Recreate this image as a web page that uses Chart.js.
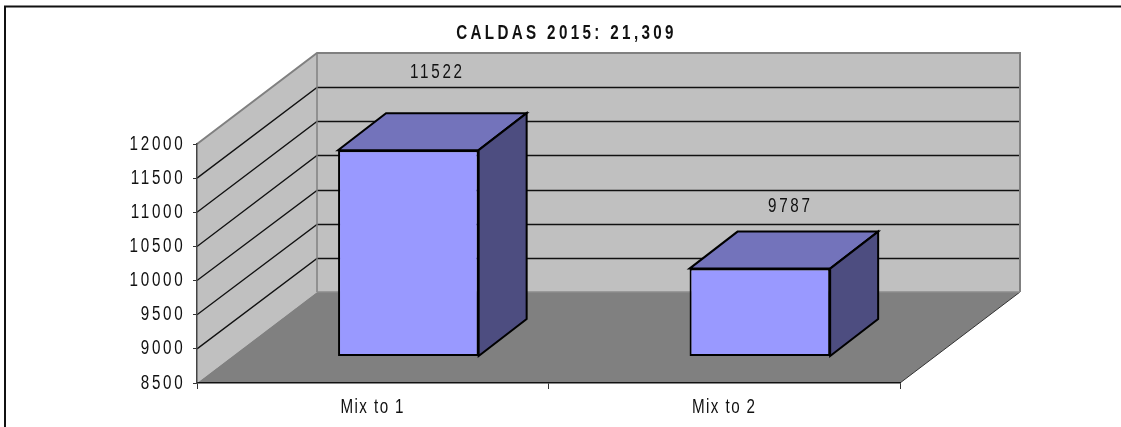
<!DOCTYPE html>
<html>
<head>
<meta charset="utf-8">
<title>CALDAS 2015</title>
<script src="https://cdn.jsdelivr.net/npm/chart.js@4"></script>
<style>
  html, body { margin: 0; padding: 0; background: #fff; overflow: hidden; }
  #chart-box { width: 1121px; height: 427px; }
</style>
</head>
<body>
<div id="chart-box"><canvas id="mixChart" width="1121" height="427"></canvas></div>
<script>
// =======================
// Data
// =======================
const categories = ["Mix to 1", "Mix to 2"];
const seriesValues = [11522, 9787];
const yMin = 8500;
const yMax = 12000;
const yStep = 500;
const chartTitle = "CALDAS 2015: 21,309";

// =======================
// Fake 3D settings
// =======================
const FONT_FAMILY = "'Liberation Sans', Arial, sans-serif";
const TEXT_SQUEEZE = 0.76;  // no narrow font here, so the text gets squeezed sideways
const WALL_DX = 120;        // front axis -> back wall
const WALL_DY = -91;
const BAR_DX = 35.6;        // front axis -> bar front face
const BAR_DY = -26.5;
const DEPTH_DX = 48;        // bar front face -> bar back face
const DEPTH_DY = -37;
const LABEL_LIFT = [41, 25];  // the labels do not sit at the same height over each bar
const LABEL_SHIFT = [29, 30.5];

function poly(ctx, pts, fill, stroke, width) {
  ctx.beginPath();
  pts.forEach((p, i) => i ? ctx.lineTo(p[0], p[1]) : ctx.moveTo(p[0], p[1]));
  ctx.closePath();
  if (fill) { ctx.fillStyle = fill; ctx.fill(); }
  if (stroke) { ctx.strokeStyle = stroke; ctx.lineWidth = width; ctx.stroke(); }
}

function line(ctx, pts, color, width) {
  ctx.beginPath();
  pts.forEach((p, i) => i ? ctx.lineTo(p[0], p[1]) : ctx.moveTo(p[0], p[1]));
  ctx.strokeStyle = color;
  ctx.lineWidth = width;
  ctx.stroke();
}

function spacingFor(ctx, text) {
  if (ctx.font.includes("bold")) return "4.4px";
  return text.startsWith("Mix") ? "1.85px" : "3.6px";
}

// Walls, floor and grid go under everything, outer frame too
const wallsPlugin = {
  id: "walls",
  beforeDraw(chart) {
    const ctx = chart.ctx;
    const { left, right } = chart.chartArea;
    const y = chart.scales.y;
    const top = y.getPixelForValue(yMax);
    const bottom = y.getPixelForValue(yMin);
    ctx.save();

    // frame has only top and left sides in the picture
    line(ctx, [[5, 427], [5, 6.5], [1121, 6.5]], "#111", 2);

    // back wall and side wall
    poly(ctx, [[left + WALL_DX, top + WALL_DY], [right + WALL_DX, top + WALL_DY],
      [right + WALL_DX, bottom + WALL_DY], [left + WALL_DX, bottom + WALL_DY]], "#c0c0c0");
    poly(ctx, [[left, top], [left + WALL_DX, top + WALL_DY],
      [left + WALL_DX, bottom + WALL_DY], [left, bottom]], "#c0c0c0");

    // floor
    poly(ctx, [[left, bottom], [left + WALL_DX, bottom + WALL_DY],
      [right + WALL_DX, bottom + WALL_DY], [right, bottom]], "#808080");
    line(ctx, [[right, bottom], [right + WALL_DX, bottom + WALL_DY]], "#333", 1);

    // gridlines, both sides
    y.ticks.forEach(t => {
      if (t.value === yMin || t.value === yMax) return;
      const py = y.getPixelForValue(t.value);
      const backY = Math.round(py + WALL_DY) + 0.5;
      line(ctx, [[left, py], [left + WALL_DX, backY], [right + WALL_DX, backY]], "#111", 1.3);
    });

    // wall edges
    line(ctx, [[left, top], [left + WALL_DX, top + WALL_DY], [right + WALL_DX, top + WALL_DY],
      [right + WALL_DX, bottom + WALL_DY]], "#808080", 2);
    line(ctx, [[left + WALL_DX, top + WALL_DY], [left + WALL_DX, bottom + WALL_DY]], "#808080", 1.5);
    line(ctx, [[left + WALL_DX, bottom + WALL_DY], [right + WALL_DX, bottom + WALL_DY]], "#8c8c8c", 1.5);
    ctx.restore();
  }
};

// Library draws the front face, moved back into the room, then the top and side get added
const boxPlugin = {
  id: "boxes",
  beforeDatasetDraw(chart) {
    chart.ctx.save();
    chart.ctx.translate(BAR_DX, BAR_DY);
  },
  afterDatasetDraw(chart, args) {
    const ctx = chart.ctx;
    args.meta.data.forEach(bar => {
      const x0 = bar.x - bar.width / 2;
      const x1 = bar.x + bar.width / 2;
      poly(ctx, [[x0, bar.y], [x1, bar.y], [x1 + DEPTH_DX, bar.y + DEPTH_DY], [x0 + DEPTH_DX, bar.y + DEPTH_DY]],
        "#7373bb", "#000", 2);
      poly(ctx, [[x1, bar.y], [x1 + DEPTH_DX, bar.y + DEPTH_DY], [x1 + DEPTH_DX, bar.base + DEPTH_DY], [x1, bar.base]],
        "#4d4d80", "#000", 2);
    });
    ctx.restore();

    // value labels
    ctx.save();
    ctx.font = "20px " + FONT_FAMILY;
    ctx.fillStyle = "#111";
    ctx.textAlign = "center";
    ctx.textBaseline = "middle";
    args.meta.data.forEach((bar, i) => {
      const topBack = bar.y + BAR_DY + DEPTH_DY;
      ctx.fillText(String(seriesValues[i]), bar.x + BAR_DX + LABEL_SHIFT[i], topBack - LABEL_LIFT[i]);
    });
    ctx.restore();
  }
};

// =======================
// Chart
// =======================
const canvas = document.getElementById("mixChart");
const canvasCtx = canvas.getContext("2d");

// every text goes through here: tall narrow glyphs with wide gaps, like the original
const plainFillText = canvasCtx.fillText.bind(canvasCtx);
canvasCtx.fillText = function (text, x, y) {
  canvasCtx.save();
  canvasCtx.letterSpacing = spacingFor(canvasCtx, text);
  canvasCtx.translate(x, y);
  canvasCtx.scale(TEXT_SQUEEZE, 1);
  plainFillText(text, 0, 0);
  canvasCtx.restore();
};

new Chart(canvas, {
  type: "bar",
  data: {
    labels: categories,
    datasets: [{
      data: seriesValues,
      base: yMin,
      backgroundColor: "#9999ff",
      borderColor: "#000",
      borderWidth: 2,
      borderSkipped: false,
      barPercentage: 0.4,
      categoryPercentage: 1,
      clip: false
    }]
  },
  plugins: [wallsPlugin, boxPlugin],
  options: {
    responsive: false,
    animation: false,
    layout: { padding: { left: 12, right: 0, top: 0, bottom: 0 } },
    plugins: {
      legend: { display: false },
      tooltip: { enabled: false },
      title: {
        display: true,
        text: chartTitle,
        color: "#111",
        font: { family: FONT_FAMILY, size: 20, weight: "bold", lineHeight: 1.2 },
        padding: { top: 21, bottom: 99 }
      }
    },
    scales: {
      x: {
        grid: { drawOnChartArea: false, drawTicks: true, tickLength: 6, color: "#333" },
        border: { color: "#111", width: 1.5 },
        ticks: { color: "#111", padding: 6, maxRotation: 0, font: { family: FONT_FAMILY, size: 20 } },
        afterFit(scale) { scale.height = 44; }
      },
      y: {
        min: yMin,
        max: yMax,
        grid: { drawOnChartArea: false, drawTicks: true, tickLength: 4, color: "#333" },
        border: { color: "#444", width: 1.5 },
        ticks: {
          stepSize: yStep,
          color: "#111",
          padding: 7.5,
          font: { family: FONT_FAMILY, size: 20 },
          callback: value => String(value)
        },
        afterFit(scale) { scale.width = 185; }
      },
      // empty axis, only holds the room to the right of the floor so the title stays centred on the page
      spare: {
        type: "linear",
        position: "right",
        grid: { display: false },
        border: { display: false },
        ticks: { display: false },
        afterFit(scale) { scale.width = 221; }
      }
    }
  }
});
</script>
</body>
</html>
